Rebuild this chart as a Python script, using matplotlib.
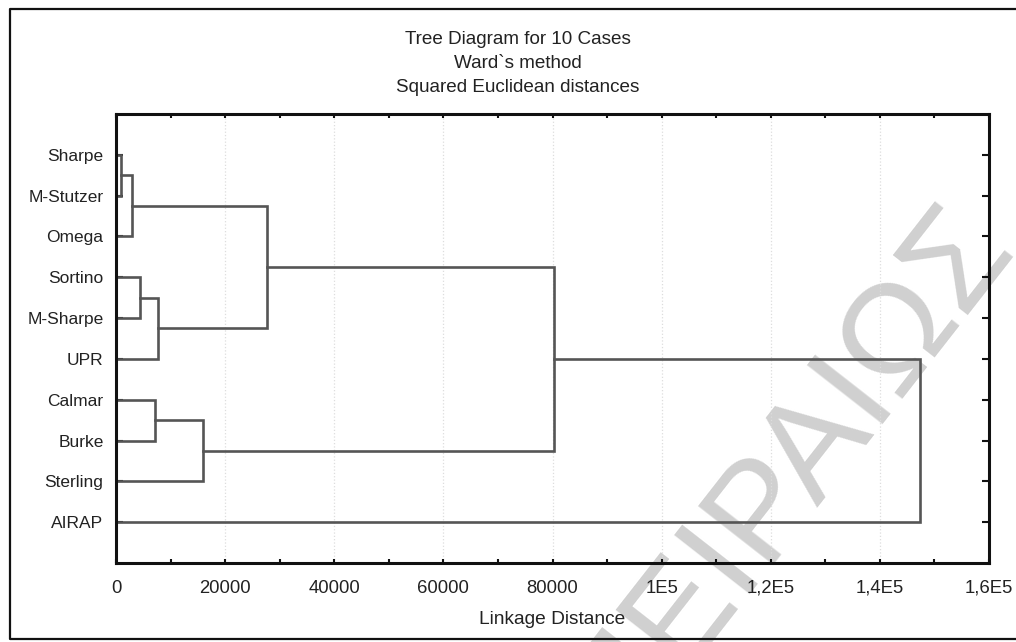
import numpy as np
import matplotlib
matplotlib.use("Agg")
import matplotlib.pyplot as plt
from matplotlib.lines import Line2D

plt.rcParams['font.family'] = ['Liberation Sans', 'DejaVu Sans']

# leaves, top to bottom
cases = ['Sharpe', 'M-Stutzer', 'Omega', 'Sortino', 'M-Sharpe', 'UPR',
         'Calmar', 'Burke', 'Sterling', 'AIRAP']

# Ward linkage steps: clusters a and b join at distance d (new cluster id = 10 + step)
merge_a = [0, 10, 3, 12, 6, 14, 11, 16, 17]
merge_b = [1, 2, 4, 5, 7, 8, 13, 15, 9]
merge_dist = [1000, 2900, 4400, 7700, 7100, 16000, 27600, 80300, 147300]

xtick_vals = [0, 20000, 40000, 60000, 80000, 100000, 120000, 140000, 160000]
xtick_labels = ['0', '20000', '40000', '60000', '80000', '1E5', '1,2E5', '1,4E5', '1,6E5']

W, H = 1016, 642
fig = plt.figure(figsize=(W / 100, H / 100), dpi=100)
fig.patch.set_facecolor('white')

ax = fig.add_axes([116 / W, 1 - 563 / H, (989 - 116) / W, (563 - 114) / H])

# watermark behind the tree
ax.text(984 / W, 1 - 220 / H, 'ΠΕΙΡΑΙΩΣ', transform=fig.transFigure,
        fontsize=101, color='#d0d0d0', rotation=52,
        rotation_mode='anchor', ha='right', va='center', zorder=0.5, clip_on=False)

# positions and heights of leaves and clusters
ypos = {i: float(i + 1) for i in range(len(cases))}
height = {i: 0.0 for i in range(len(cases))}
for k, (a, b, d) in enumerate(zip(merge_a, merge_b, merge_dist)):
    cid = len(cases) + k
    xs = [height[a], d, d, height[b]]
    ys = [ypos[a], ypos[a], ypos[b], ypos[b]]
    ax.plot(xs, ys, color='#555555', lw=1.9, solid_joinstyle='miter', zorder=3)
    ypos[cid] = (ypos[a] + ypos[b]) / 2
    height[cid] = d

ax.set_xlim(0, 160000)
ax.set_ylim(11, 0)

ax.set_xticks(xtick_vals)
ax.set_xticklabels(xtick_labels)
ax.set_xticks(np.arange(10000, 160000, 20000), minor=True)
ax.set_yticks(np.arange(1, len(cases) + 1))
ax.set_yticklabels(cases)

ax.tick_params(axis='x', which='both', direction='in', top=True, bottom=True,
               length=3, width=1.5, labelsize=13.3, pad=12, colors='#111111')
ax.tick_params(axis='y', which='major', direction='in', left=True, right=True,
               length=5, width=1.5, labelsize=12.5, pad=9, colors='#111111')
for lab in ax.get_xticklabels() + ax.get_yticklabels():
    lab.set_color('#222222')

ax.grid(axis='x', which='major', color='#dddddd', linestyle=':', linewidth=0.9)
ax.set_axisbelow(True)
for sp in ax.spines.values():
    sp.set_linewidth(2.2)
    sp.set_color('#111111')
    sp.set_zorder(4)

ax.set_xlabel('Linkage Distance', fontsize=13.8, color='#222222', labelpad=10)

fig.text(518 / W, 1 - 40 / H, 'Tree Diagram for 10 Cases', ha='center', va='center',
         fontsize=13.6, color='#222222')
fig.text(518 / W, 1 - 64 / H, "Ward`s method", ha='center', va='center',
         fontsize=13.6, color='#222222')
fig.text(518 / W, 1 - 88 / H, 'Squared Euclidean distances', ha='center', va='center',
         fontsize=13.6, color='#222222')

# outer frame (runs off the right edge)
fx = [1030 / W, 9.5 / W, 9.5 / W, 1030 / W]
fy = [1 - 9 / H, 1 - 9 / H, 1 - 639 / H, 1 - 639 / H]
fig.add_artist(Line2D(fx, fy, transform=fig.transFigure, color='#111111', lw=1.6))

fig.savefig('out.png', dpi=100)
